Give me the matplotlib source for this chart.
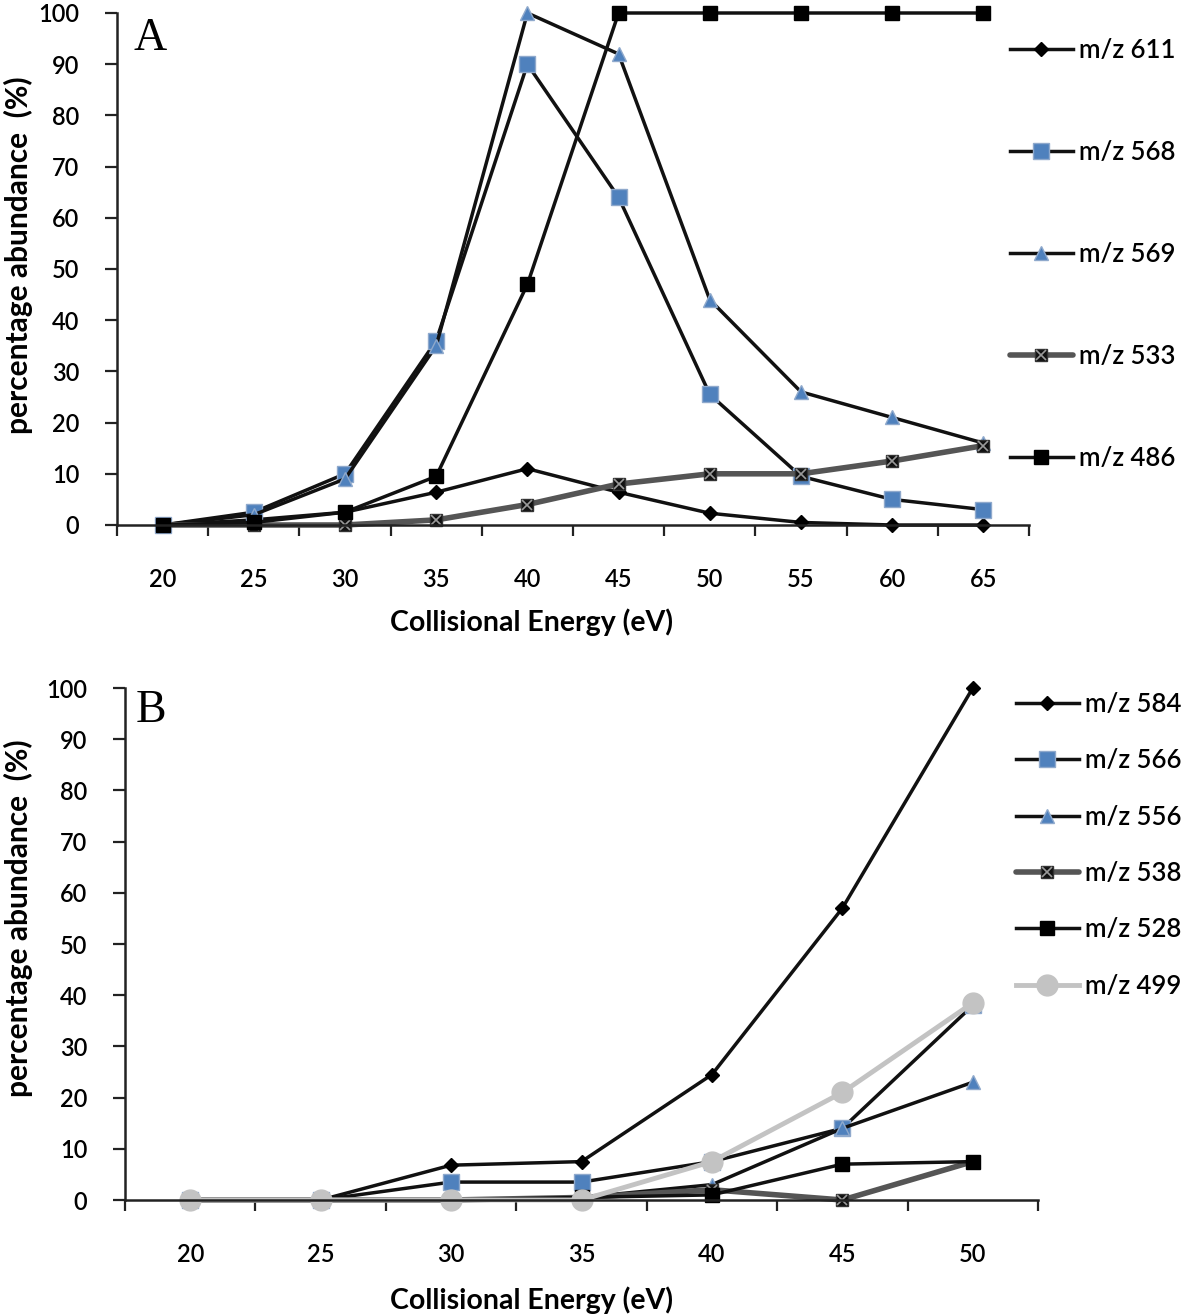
import matplotlib
matplotlib.use("Agg")
import matplotlib.pyplot as plt
import numpy as np
from matplotlib.legend_handler import HandlerTuple

# ---------------- data ----------------
energy_A = [20, 25, 30, 35, 40, 45, 50, 55, 60, 65]
mz611 = [0, 1, 2.5, 6.4, 11, 6.4, 2.3, 0.5, 0, 0]
mz568 = [0, 2.5, 10, 36, 90, 64, 25.5, 9.5, 5, 3]
mz569 = [0, 2, 9, 35, 100, 92, 44, 26, 21, 16]
mz533 = [0, 0, 0, 1, 4, 8, 10, 10, 12.5, 15.5]
mz486 = [0, 0.5, 2.5, 9.5, 47, 100, 100, 100, 100, 100]

energy_B = [20, 25, 30, 35, 40, 45, 50]
mz584 = [0, 0, 6.8, 7.5, 24.5, 57, 100]
mz566 = [0, 0, 3.5, 3.5, 7.5, 14, 38]
mz556 = [0, 0, 0, 0.5, 3, 14, 23]
mz538 = [0, 0, 0, 0.5, 2, 0, 7.5]
mz528 = [0, 0, 0, 0.5, 1, 7, 7.5]
mz499 = [0, 0, 0, 0, 7.5, 21, 38.5]

yticks = [0, 10, 20, 30, 40, 50, 60, 70, 80, 90, 100]

BLUE = "#4F81BD"
BLUE_EDGE = "#8FA9CC"
DARK = "#111111"
GREY_LINE = "#555555"
LIGHT = "#C3C3C3"
FONT = "Lato"
TW = 600  # tick-label weight

fig = plt.figure(figsize=(12, 13.15), dpi=100)

axA = fig.add_axes([117/1200, 1-525/1315, (1029-117)/1200, (525-13)/1315])
axB = fig.add_axes([125/1200, 1-1200/1315, (1038-125)/1200, (1200-688)/1315])


def style_axis(ax, cats):
    n = len(cats)
    ax.set_xlim(-0.5, n - 0.5)
    ax.set_ylim(0, 100)
    ax.set_yticks(yticks)
    ax.set_yticklabels([str(v) for v in yticks], fontfamily=FONT, fontsize=17, fontweight=TW)
    ax.set_xticks(np.arange(-0.5, n, 1.0))
    ax.set_xticklabels([])
    ax.set_xticks(np.arange(n), minor=True)
    ax.set_xticklabels([str(c) for c in cats], minor=True, fontfamily=FONT, fontsize=17, fontweight=TW)
    ax.tick_params(axis="x", which="major", length=8, width=1.6, color="#222222", direction="out")
    ax.tick_params(axis="x", which="minor", length=0, pad=31)
    ax.tick_params(axis="y", length=9, width=1.6, color="#222222", direction="out", pad=18)
    for s in ["top", "right"]:
        ax.spines[s].set_visible(False)
    for s in ["left", "bottom"]:
        ax.spines[s].set_linewidth(1.8)
        ax.spines[s].set_color("#222222")


def xsquare(ax, x, y, color_line, lw):
    l, = ax.plot(x, y, color=color_line, lw=lw, marker="s", ms=9, mfc="#111111",
                 mec="#333333", mew=1, solid_capstyle="round", clip_on=False)
    o, = ax.plot(x, y, ls="none", marker="x", ms=7, mec="#9a9a9a", mew=1.2, clip_on=False)
    return (l, o)


LEG_PROP = {"family": FONT, "size": 18.5, "weight": TW}

# ---------------- panel A ----------------
style_axis(axA, energy_A)
xa = np.arange(len(energy_A))
hA = []
hA.append(axA.plot(xa, mz611, color=DARK, lw=2.5, marker="D", ms=7, mfc="black", mec="black", clip_on=False)[0])
hA.append(axA.plot(xa, mz568, color=DARK, lw=2.5, marker="s", ms=11, mfc=BLUE, mec=BLUE_EDGE, mew=1, clip_on=False)[0])
hA.append(axA.plot(xa, mz569, color=DARK, lw=2.5, marker="^", ms=10, mfc=BLUE, mec=BLUE_EDGE, mew=1, clip_on=False)[0])
hA.append(xsquare(axA, xa, mz533, GREY_LINE, 4))
hA.append(axA.plot(xa, mz486, color=DARK, lw=2.5, marker="s", ms=10, mfc="black", mec="black", clip_on=False)[0])
labelsA = ["m/z 611", "m/z 568", "m/z 569", "m/z 533", "m/z 486"]
fig.legend(hA, labelsA, loc="upper left", bbox_to_anchor=(1010/1200, 1-38/1315),
           frameon=False, borderpad=0, borderaxespad=0, handlelength=2.45, handletextpad=0.25,
           labelspacing=3.0, prop=LEG_PROP,
           handler_map={tuple: HandlerTuple(ndivide=1)})

# ---------------- panel B ----------------
style_axis(axB, energy_B)
xb = np.arange(len(energy_B))
hB = []
hB.append(axB.plot(xb, mz584, color=DARK, lw=2.5, marker="D", ms=7, mfc="black", mec="black", clip_on=False)[0])
hB.append(axB.plot(xb, mz566, color=DARK, lw=2.5, marker="s", ms=11, mfc=BLUE, mec=BLUE_EDGE, mew=1, clip_on=False)[0])
hB.append(axB.plot(xb, mz556, color=DARK, lw=2.5, marker="^", ms=10, mfc=BLUE, mec=BLUE_EDGE, mew=1, clip_on=False)[0])
hB.append(xsquare(axB, xb, mz538, GREY_LINE, 4))
hB.append(axB.plot(xb, mz528, color=DARK, lw=2.5, marker="s", ms=10, mfc="black", mec="black", clip_on=False)[0])
hB.append(axB.plot(xb, mz499, color=LIGHT, lw=3.5, marker="o", ms=15, mfc=LIGHT, mec=LIGHT, clip_on=False)[0])
labelsB = ["m/z 584", "m/z 566", "m/z 556", "m/z 538", "m/z 528", "m/z 499"]
fig.legend(hB, labelsB, loc="upper left", bbox_to_anchor=(1016/1200, 1-692/1315),
           frameon=False, borderpad=0, borderaxespad=0, handlelength=2.45, handletextpad=0.25,
           labelspacing=1.22, prop=LEG_PROP,
           handler_map={tuple: HandlerTuple(ndivide=1)})

# ---------------- labels ----------------
for yc in (1-255/1315, 1-918/1315):
    fig.text(18/1200, yc, "percentage abundance  (%)", rotation=90, ha="center", va="center",
             fontfamily=FONT, fontweight="bold", fontsize=21.5)
fig.text(532/1200, 1-622/1315, "Collisional Energy (eV)", ha="center", va="center",
         fontfamily=FONT, fontweight="bold", fontsize=20.5)
fig.text(532/1200, 1-1300/1315, "Collisional Energy (eV)", ha="center", va="center",
         fontfamily=FONT, fontweight="bold", fontsize=20.5)
fig.text(134/1200, 1-39/1315, "A", ha="left", va="center", fontfamily="Liberation Serif", fontsize=33)
fig.text(136/1200, 1-711/1315, "B", ha="left", va="center", fontfamily="Liberation Serif", fontsize=33)

fig.savefig("out.png", dpi=100)
